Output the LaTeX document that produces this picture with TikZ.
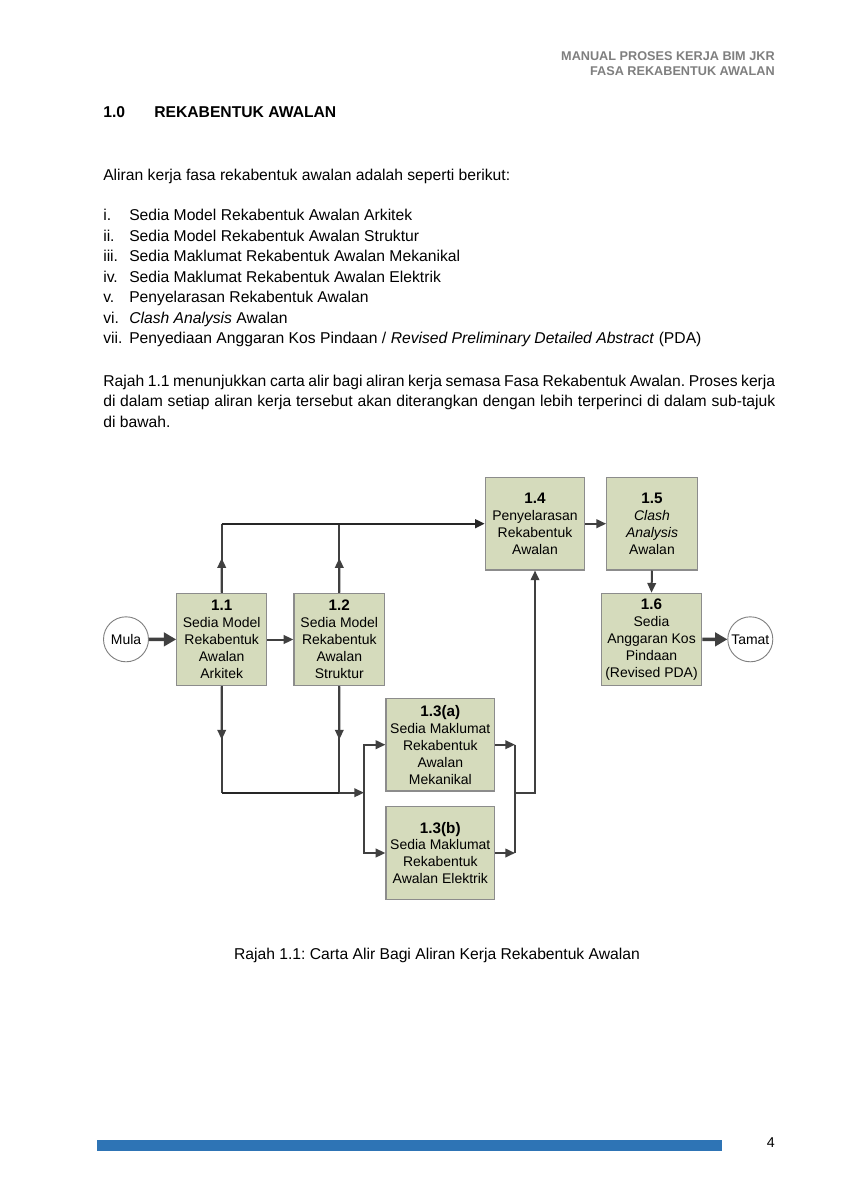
\documentclass[tikz,border=0pt]{standalone}
\usepackage{fontspec}
\setmainfont{Liberation Sans}
\usetikzlibrary{arrows.meta,calc,positioning}
\newdimen\pxu
\pxu=0.7017pt
\definecolor{boxfill}{HTML}{D5DBBC}
\definecolor{boxline}{HTML}{8C8C8C}
\definecolor{arrowgray}{HTML}{404040}
\definecolor{headgray}{HTML}{7F7F7F}
\definecolor{barblue}{HTML}{2E74B5}
\frenchspacing
\newcommand{\stepno}[1]{{\fontsize{10.7}{12}\selectfont\bfseries #1}}
\begin{document}
\begin{tikzpicture}[x=\pxu,y=-\pxu,
    body/.style={anchor=base west,inner sep=0pt,font=\fontsize{11}{13}\selectfont},
    procbox/.style={draw=boxline,fill=boxfill,line width=1.1*\pxu,align=center,inner sep=0pt,
      minimum height=92.5*\pxu,font=\fontsize{9.8}{11.9}\selectfont},
    endpoint/.style={circle,draw=headgray,fill=white,line width=0.9*\pxu,inner sep=0pt,
      minimum size=45*\pxu,font=\fontsize{9.8}{11.9}\selectfont},
    link/.style={draw=arrowgray,line width=2*\pxu},
    flow/.style={link,-{Triangle[length=6.8pt,width=6pt]}},
    mainlink/.style={draw=black!85,line width=2.4*\pxu},
    thickflow/.style={draw=arrowgray,line width=3.6*\pxu,-{Triangle[length=8.6pt,width=9.4pt]}}]
  \useasboundingbox (0,0) rectangle (848,1200);
  \fill[white] (0,0) rectangle (848,1200);

  % header
  \node[anchor=base east,inner sep=0pt,text=headgray,font=\fontsize{8.9}{10}\selectfont\bfseries] (head1) at (775,61) {MANUAL PROSES KERJA BIM JKR};
  \node[anchor=base east,inner sep=0pt,text=headgray,font=\fontsize{8.9}{10}\selectfont\bfseries] (head2) at (775,76) {FASA REKABENTUK AWALAN};

  % section title
  \node[body,font=\fontsize{11}{13}\selectfont\bfseries] (secno) at (103,117) {1.0};
  \node[body,font=\fontsize{11}{13}\selectfont\bfseries] (sectitle) at (154,117) {REKABENTUK AWALAN};

  \node[body] (intro) at (103,180.7) {Aliran kerja fasa rekabentuk awalan adalah seperti berikut:};

  % list
  \node[body] at (103,220.5) {i.};
  \node[body] at (129,220.5) {Sedia Model Rekabentuk Awalan Arkitek};
  \node[body] at (103,241) {ii.};
  \node[body] at (129,241) {Sedia Model Rekabentuk Awalan Struktur};
  \node[body] at (103,261.5) {iii.};
  \node[body] at (129,261.5) {Sedia Maklumat Rekabentuk Awalan Mekanikal};
  \node[body] at (103,282) {iv.};
  \node[body] at (129,282) {Sedia Maklumat Rekabentuk Awalan Elektrik};
  \node[body] at (103,302.5) {v.};
  \node[body] at (129,302.5) {Penyelarasan Rekabentuk Awalan};
  \node[body] at (103,323) {vi.};
  \node[body] at (129,323) {\textit{Clash Analysis} Awalan};
  \node[body] at (103,343.5) {vii.};
  \node[body] at (129,343.5) {Penyediaan Anggaran Kos Pindaan / \textit{Revised Preliminary Detailed Abstract} (PDA)};

  % paragraph
  \node[body] (para1) at (103,386) {\makebox[672\pxu][s]{Rajah 1.1 menunjukkan carta alir bagi aliran kerja semasa Fasa Rekabentuk Awalan. Proses kerja}};
  \node[body] (para2) at (103,406.5) {\makebox[672\pxu][s]{di dalam setiap aliran kerja tersebut akan diterangkan dengan lebih terperinci di dalam sub-tajuk}};
  \node[body] (para3) at (103,427) {di bawah.};

  % flow chart
  \node[endpoint] (mula) at (126,639.3) {Mula};
  \node[procbox,minimum width=90*\pxu] (b11) at (221.7,639.5) {\stepno{1.1}\\Sedia Model\\Rekabentuk\\Awalan\\Arkitek};
  \node[procbox,minimum width=90.7*\pxu] (b12) at (339.3,639.5) {\stepno{1.2}\\Sedia Model\\Rekabentuk\\Awalan\\Struktur};
  \node[procbox,minimum width=108.7*\pxu] (b13a) at (440.3,744.7) {\stepno{1.3(a)}\\Sedia Maklumat\\Rekabentuk\\Awalan\\Mekanikal};
  \node[procbox,minimum width=108.7*\pxu] (b13b) at (440.3,853) {\stepno{1.3(b)}\\Sedia Maklumat\\Rekabentuk\\Awalan Elektrik};
  \node[procbox,minimum width=99.4*\pxu] (b14) at (535,523.7) {\stepno{1.4}\\Penyelarasan\\Rekabentuk\\Awalan};
  \node[procbox,minimum width=90.6*\pxu] (b15) at (652,523.7) {\stepno{1.5}\\\textit{Clash}\\\textit{Analysis}\\Awalan};
  \node[procbox,minimum width=100.4*\pxu] (b16) at (651.5,639.5) {\stepno{1.6}\\Sedia\\Anggaran Kos\\Pindaan\\(Revised PDA)};
  \node[endpoint] (tamat) at (750.3,639.3) {Tamat};

  \coordinate (t1) at (b11.north |- b14.west);
  \coordinate (t2) at (b12.north |- b14.west);
  \coordinate (split) at (364,792.7);
  \coordinate (d1) at (b11.south |- split);
  \coordinate (d2) at (b12.south |- split);
  \coordinate (merge) at (515,792.7);

  \draw[thickflow] (mula) -- (b11);
  \draw[flow] (b11) -- (b12);

  % up to 1.4
  \draw[link] (b11.north) -- (t1);
  \draw[link] (b12.north) -- (t2);
  \draw[flow] (b11.north) -- ($(b11.north)!.5!(t1)$);
  \draw[flow] (b12.north) -- ($(b12.north)!.5!(t2)$);
  \draw[mainlink,-{Triangle[length=6.8pt,width=6pt]}] (t1) -- (b14.west);

  % down to 1.3
  \draw[link] (b11.south) -- (d1);
  \draw[link] (b12.south) -- (d2);
  \draw[flow] (b11.south) -- ($(b11.south)!.5!(d1)$);
  \draw[flow] (b12.south) -- ($(b12.south)!.5!(d2)$);
  \draw[mainlink] (d1) -- (d2);
  \draw[flow] (d2) -- (split);
  \draw[flow] (split) |- (b13a.west);
  \draw[flow] (split) |- (b13b.west);

  \draw[flow] (b13a.east) -- (merge |- b13a.east);
  \draw[flow] (b13b.east) -- (merge |- b13b.east);
  \draw[link] (merge |- b13a.east) -- (merge |- b13b.east);
  \draw[flow] (merge) -| (b14.south);

  \draw[flow] (b14) -- (b15);
  \draw[flow] (b15.south) -- (b16.north);
  \draw[thickflow] (b16) -- (tamat);

  \node[body,anchor=base] (caption) at (437,959) {Rajah 1.1: Carta Alir Bagi Aliran Kerja Rekabentuk Awalan};

  % footer
  \fill[barblue] (97,1140.3) rectangle (722,1151);
  \node[anchor=base east,inner sep=0pt,font=\fontsize{10}{12}\selectfont] (pageno) at (775,1147) {4};
\end{tikzpicture}
\end{document}
